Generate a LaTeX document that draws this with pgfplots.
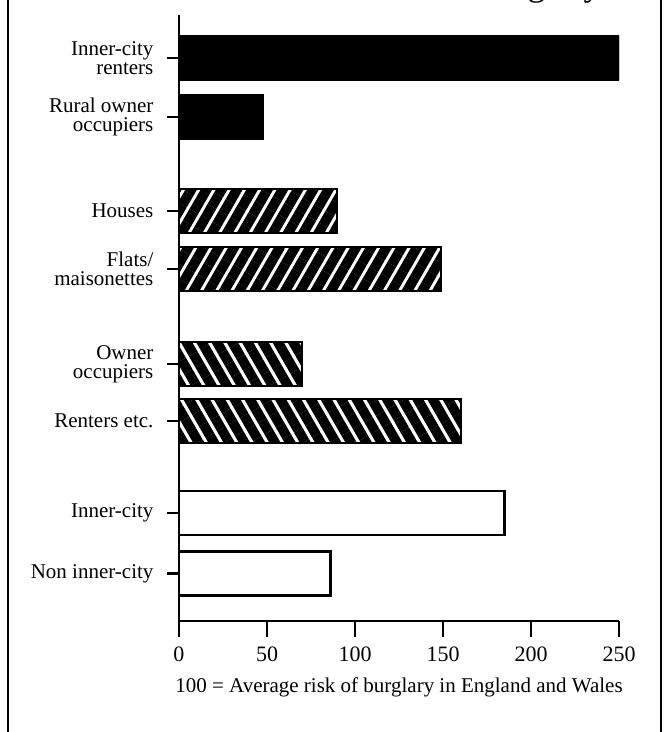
\documentclass[border=0pt]{standalone}
\usepackage{fontspec}
\setmainfont{Liberation Serif}
\usepackage{pgfplots}
\pgfplotsset{compat=1.18}
\usetikzlibrary{patterns.meta}
\begin{document}
\begin{tikzpicture}
\useasboundingbox (0,0) rectangle (332.5pt,366pt);
\draw[line width=1.3pt] (4pt,0) -- (4pt,366pt);
\draw[line width=1.3pt] (330.5pt,0) -- (330.5pt,366pt);
\node[anchor=base east, inner sep=0pt, font=\fontsize{18}{20}\selectfont] at (301pt,368pt) {burglary};
\begin{axis}[
  at={(89.5pt,55.5pt)}, anchor=south west,
  width=220pt, height=303pt, scale only axis,
  xmin=0, xmax=250, ymin=0, ymax=606,
  axis x line*=bottom, axis y line*=left,
  axis line style={line width=1.3pt, black},
  tick align=outside,
  tick style={line width=1.3pt, black},
  xtick style={/pgfplots/major tick length=8pt},
  ytick style={/pgfplots/major tick length=6pt},
  xtick={0,50,100,150,200,250},
  ytick={47.5,108,200,257,352,410,504,563},
  yticklabels={Non inner-city, Inner-city, Renters etc., {Owner\\occupiers}, {Flats/\\maisonettes}, Houses, {Rural owner\\occupiers}, {Inner-city\\renters}},
  /pgf/number format/assume math mode=true,
  xticklabel style={font=\fontsize{11}{12}\selectfont, yshift=-5pt},
  yticklabel style={font=\fontsize{10.5}{9.5}\selectfont, align=right, xshift=-5pt},
  xlabel={100 = Average risk of burglary in England and Wales},
  xlabel style={font=\fontsize{10.5}{12}\selectfont, at={(axis description cs:0.5,0)}, anchor=center, yshift=-33pt},
  xbar, bar width=44,
]
\addplot[bar shift=0pt, fill=black, draw=black, line width=1pt] coordinates {(250,563) (48,504)};
\addplot[bar shift=0pt, draw=black, line width=1pt,
  pattern={Lines[angle=60,distance=6.6pt,line width=5pt]}, pattern color=black] coordinates {(90,410) (149,352)};
\addplot[bar shift=0pt, draw=black, line width=1pt,
  pattern={Lines[angle=-60,distance=6.6pt,line width=4.9pt]}, pattern color=black] coordinates {(70,257) (160,200)};
\addplot[bar shift=0pt, fill=white, draw=black, line width=1.2pt] coordinates {(185,108) (86,47.5)};
\end{axis}
\end{tikzpicture}
\end{document}
